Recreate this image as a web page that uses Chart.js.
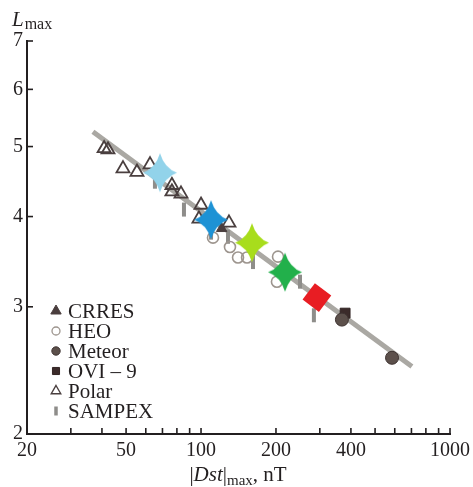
<!DOCTYPE html>
<html>
<head>
<meta charset="utf-8">
<script src="https://cdn.jsdelivr.net/npm/chart.js@4.4.1/dist/chart.umd.min.js"></script>
<style>
  html, body { margin: 0; padding: 0; background: #fff; }
</style>
</head>
<body>
<canvas id="c" width="473" height="487"></canvas>
<script>
// values: |Dst|max (nT) and Lmax
const polarDst = [40.8, 42.3, 48.6, 55.3, 62.4, 76.4, 76.4, 83.1, 100, 98.1, 129.5];
const polarL   = [4.97, 4.95, 4.66, 4.61, 4.72, 4.42, 4.33, 4.30, 4.15, 3.97, 3.92];

const crresDst = [121];
const crresL   = [3.85];

const heoDst = [111.7, 130.7, 140.8, 153, 203.8, 201.8];
const heoL   = [3.74, 3.63, 3.51, 3.51, 3.52, 3.25];

const meteorDst = [368, 585];
const meteorL   = [2.88, 2.55];

const oviDst = [379];
const oviL   = [2.94];

const sampexDst = [65.3, 85.4, 109.7, 128.3, 161.7, 249.8, 284];
const sampexL   = [4.47, 4.09, 3.80, 3.75, 3.46, 3.25, 2.92];

// mean values (big coloured marks)
const meanDst    = [68.4, 109.7, 160.2, 217.5];
const meanL      = [4.60, 3.96, 3.68, 3.35];
const meanColors = ['#92d3ea', '#1d92d5', '#a8dd1c', '#22b04b'];

const redDst = [292];
const redL   = [3.09];

// regression line
const fitDst = [36.8, 703];
const fitL   = [5.24, 2.48];

const xTicks  = [20, 30, 40, 50, 60, 70, 80, 90, 100, 200, 300, 400, 500, 600, 700, 800, 900, 1000];
const xLabels = [20, 50, 100, 200, 400, 1000];
const yTicks  = [2, 3, 4, 5, 6, 7];

const INK = '#231f20';
const SERIF = '"Liberation Serif", "DejaVu Serif", serif';

const pts = (xs, ys) => xs.map((x, i) => ({ x, y: ys[i] }));

// 4-pointed star used for the mean values
const starCanvas = (color) => {
  const rx = 17, ry = 19.5, w = 4.5;
  const c = document.createElement('canvas');
  c.width = 2 * rx + 2;
  c.height = 2 * ry + 2;
  const g = c.getContext('2d');
  const cx = c.width / 2, cy = c.height / 2;
  g.beginPath();
  g.moveTo(cx, cy - ry);
  g.quadraticCurveTo(cx + w, cy - w, cx + rx, cy);
  g.quadraticCurveTo(cx + w, cy + w, cx, cy + ry);
  g.quadraticCurveTo(cx - w, cy + w, cx - rx, cy);
  g.quadraticCurveTo(cx - w, cy - w, cx, cy - ry);
  g.closePath();
  g.fillStyle = color;
  g.fill();
  return c;
};

const datasets = [
  {
    label: 'fit', data: pts(fitDst, fitL), showLine: true,
    borderColor: '#aaa8a3', borderWidth: 5, borderCapStyle: 'butt',
    pointRadius: 0, order: 10
  },
  {
    label: 'SAMPEX', data: pts(sampexDst, sampexL), legend: { r: 4.5, w: 3.5 },
    pointStyle: 'line', rotation: 90, pointRadius: 7, pointBorderWidth: 4,
    pointBorderColor: '#8e8d8a', pointBackgroundColor: '#8e8d8a', order: 6
  },
  {
    label: 'HEO', data: pts(heoDst, heoL), legend: { r: 4, w: 1.3 },
    pointStyle: 'circle', pointRadius: 5.5, pointBorderWidth: 1.6,
    pointBorderColor: '#9d958e', pointBackgroundColor: 'rgba(0,0,0,0)', order: 5
  },
  {
    label: 'Polar', data: pts(polarDst, polarL), legend: { r: 5.5, w: 1.4 },
    pointStyle: 'triangle', pointRadius: 7.5, pointBorderWidth: 1.8,
    pointBorderColor: '#4a3f3f', pointBackgroundColor: 'rgba(0,0,0,0)', order: 4
  },
  {
    label: 'CRRES', data: pts(crresDst, crresL), legend: { r: 6, w: 1 },
    pointStyle: 'triangle', pointRadius: 6, pointBorderWidth: 1,
    pointBorderColor: '#4a3e3e', pointBackgroundColor: '#4a3e3e', order: 4
  },
  {
    label: 'Meteor', data: pts(meteorDst, meteorL), legend: { r: 4.2, w: 1 },
    pointStyle: 'circle', pointRadius: 6.5, pointBorderWidth: 1,
    pointBorderColor: '#3e3331', pointBackgroundColor: '#5c504b', order: 3
  },
  {
    label: 'OVI \u2013 9', data: pts(oviDst, oviL), legend: { r: 5, w: 1 },
    pointStyle: 'rect', pointRadius: 7, pointBorderWidth: 1,
    pointBorderColor: '#332524', pointBackgroundColor: '#3b2b2a', order: 4
  },
  {
    label: 'mean', data: pts(meanDst, meanL),
    pointStyle: meanColors.map(starCanvas), pointRadius: 18, order: 1
  },
  {
    label: 'red', data: pts(redDst, redL),
    pointStyle: 'rectRot', rotation: -8, pointRadius: 14.5, pointBorderWidth: 0,
    pointBackgroundColor: '#e81d23', pointBorderColor: '#e81d23', order: 1
  }
];

const legendOrder = ['CRRES', 'HEO', 'Meteor', 'OVI \u2013 9', 'Polar', 'SAMPEX'];

const drawMark = (ctx, ds, r, w, x, y) => {
  ctx.save();
  ctx.fillStyle = ds.pointBackgroundColor;
  ctx.strokeStyle = ds.pointBorderColor;
  ctx.lineWidth = w;
  Chart.helpers.drawPoint(ctx, {
    pointStyle: ds.pointStyle, rotation: ds.rotation || 0, radius: r, borderWidth: w
  }, x, y);
  ctx.restore();
};

const decor = {
  id: 'decor',
  beforeDatasetsDraw(chart) {
    const { ctx, chartArea: a, scales: { x, y } } = chart;
    ctx.save();
    ctx.strokeStyle = INK;
    ctx.lineWidth = 1.6;
    x.ticks.forEach(t => {
      const px = x.getPixelForValue(t.value);
      ctx.beginPath();
      ctx.moveTo(px, a.bottom);
      ctx.lineTo(px, a.bottom - 6);
      ctx.stroke();
    });
    y.ticks.forEach(t => {
      const py = y.getPixelForValue(t.value);
      ctx.beginPath();
      ctx.moveTo(a.left, py);
      ctx.lineTo(a.left + 6, py);
      ctx.stroke();
    });
    ctx.restore();
  },
  afterDraw(chart) {
    const { ctx } = chart;
    ctx.save();
    ctx.fillStyle = INK;
    ctx.textBaseline = 'alphabetic';

    // y title: L_max
    ctx.font = 'italic 21px ' + SERIF;
    ctx.fillText('L', 12, 26);
    let lx = 12 + ctx.measureText('L').width + 1;
    ctx.font = '16px ' + SERIF;
    ctx.fillText('max', lx, 29);

    // x title: |Dst|_max, nT
    const parts = [
      { t: '|', f: '21px ' + SERIF, dy: 0 },
      { t: 'Dst', f: 'italic 21px ' + SERIF, dy: 0 },
      { t: '|', f: '21px ' + SERIF, dy: 0 },
      { t: 'max', f: '15px ' + SERIF, dy: 4 },
      { t: ', nT', f: '21px ' + SERIF, dy: 0 }
    ];
    let total = 0;
    parts.forEach(p => { ctx.font = p.f; p.w = ctx.measureText(p.t).width; total += p.w; });
    let px = 238 - total / 2;
    parts.forEach(p => { ctx.font = p.f; ctx.fillText(p.t, px, 481 + p.dy); px += p.w; });

    // legend
    ctx.font = '21px ' + SERIF;
    ctx.textBaseline = 'middle';
    legendOrder.forEach((name, i) => {
      const ds = chart.data.datasets.find(d => d.label === name);
      const ry = 311 + i * 20;
      drawMark(ctx, ds, ds.legend.r, ds.legend.w, 56, ry);
      ctx.fillStyle = INK;
      ctx.fillText(name, 68, ry + 1);
    });
    ctx.restore();
  }
};

new Chart(document.getElementById('c'), {
  type: 'scatter',
  data: { datasets },
  plugins: [decor],
  options: {
    responsive: false,
    animation: false,
    events: [],
    layout: { padding: { top: 41, right: 23, left: 0, bottom: 0 } },
    plugins: { legend: { display: false }, tooltip: { enabled: false } },
    scales: {
      x: {
        type: 'logarithmic', min: 20, max: 1000,
        afterBuildTicks: s => { s.ticks = xTicks.map(v => ({ value: v })); },
        afterFit: s => { s.height = 53; s.paddingLeft = 0; s.paddingRight = 0; },
        grid: { display: false, drawTicks: false },
        border: { display: true, color: INK, width: 2 },
        ticks: {
          autoSkip: false, maxRotation: 0, padding: 5, color: INK,
          font: { family: SERIF, size: 20 },
          callback: v => xLabels.includes(v) ? String(v) : ''
        }
      },
      y: {
        type: 'logarithmic', min: 2, max: 7,
        afterBuildTicks: s => { s.ticks = yTicks.map(v => ({ value: v })); },
        afterFit: s => { s.width = 27; s.paddingTop = 0; s.paddingBottom = 0; },
        grid: { display: false, drawTicks: false },
        border: { display: true, color: INK, width: 2 },
        ticks: {
          padding: 4, color: INK,
          font: { family: SERIF, size: 20 },
          callback: v => String(v)
        }
      }
    }
  }
});
</script>
</body>
</html>
